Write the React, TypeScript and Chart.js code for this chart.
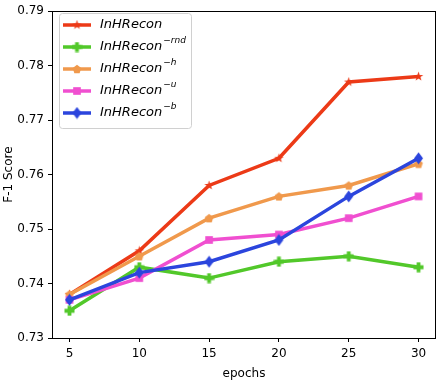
import React, { useEffect, useRef } from "react";
import { Chart, registerables } from "chart.js";

Chart.register(...registerables);

const epochs = [5, 10, 15, 20, 25, 30];
const inhrecon = [0.738, 0.746, 0.758, 0.763, 0.777, 0.778];
const inhreconRnd = [0.735, 0.743, 0.741, 0.744, 0.745, 0.743];
const inhreconH = [0.738, 0.745, 0.752, 0.756, 0.758, 0.762];
const inhreconU = [0.737, 0.741, 0.748, 0.749, 0.752, 0.756];
const inhreconB = [0.737, 0.742, 0.744, 0.748, 0.756, 0.763];
const yTicks = [0.73, 0.74, 0.75, 0.76, 0.77, 0.78, 0.79];
const seriesNames = ["InHRecon", "InHRecon", "InHRecon", "InHRecon", "InHRecon"];
const seriesSups = ["", "−rnd", "−h", "−u", "−b"];

const COLORS = ["#ec3a17", "#52c82a", "#f0994c", "#f04fd0", "#2b45dd"];
const FONT = "'DejaVu Sans', sans-serif";

function makeMarker(kind: string, color: string, size: number): HTMLCanvasElement {
  const c = document.createElement("canvas");
  c.width = size;
  c.height = size;
  const ctx = c.getContext("2d")!;
  ctx.fillStyle = color;
  ctx.strokeStyle = color;
  const cx = size / 2;
  const cy = size / 2;
  const r = size / 2 - 0.5;
  ctx.beginPath();
  if (kind === "star") {
    for (let i = 0; i < 10; i++) {
      const rr = i % 2 === 0 ? r : r * 0.4;
      const a = -Math.PI / 2 + (i * Math.PI) / 5;
      const x = cx + rr * Math.cos(a);
      const y = cy + rr * Math.sin(a);
      if (i === 0) ctx.moveTo(x, y);
      else ctx.lineTo(x, y);
    }
    ctx.closePath();
    ctx.fill();
  } else if (kind === "plus") {
    const w = r * 0.38;
    ctx.rect(cx - w, cy - r, 2 * w, 2 * r);
    ctx.rect(cx - r, cy - w, 2 * r, 2 * w);
    ctx.fill();
  } else if (kind === "pentagon") {
    for (let i = 0; i < 5; i++) {
      const a = -Math.PI / 2 + (i * 2 * Math.PI) / 5;
      const x = cx + r * Math.cos(a);
      const y = cy + r * 1.05 * Math.sin(a) + 0.5;
      if (i === 0) ctx.moveTo(x, y);
      else ctx.lineTo(x, y);
    }
    ctx.closePath();
    ctx.fill();
  } else if (kind === "square") {
    const s = r * 0.85;
    ctx.rect(cx - s, cy - s, 2 * s, 2 * s);
    ctx.fill();
  } else if (kind === "diamond") {
    ctx.moveTo(cx, cy - r);
    ctx.lineTo(cx + r * 0.75, cy);
    ctx.lineTo(cx, cy + r);
    ctx.lineTo(cx - r * 0.75, cy);
    ctx.closePath();
    ctx.fill();
  }
  return c;
}

export default function App() {
  const ref = useRef<HTMLCanvasElement | null>(null);

  useEffect(() => {
    document.body.style.margin = "0";
    const canvas = ref.current!;
    const markerKinds = ["star", "plus", "pentagon", "square", "diamond"];
    const markerSizes = [11, 11, 10, 10, 13];
    const markers = markerKinds.map((k, i) => makeMarker(k, COLORS[i], markerSizes[i]));
    const allSeries = [inhrecon, inhreconRnd, inhreconH, inhreconU, inhreconB];

    const datasets = allSeries.map((vals, i) => ({
      label: seriesNames[i] + seriesSups[i],
      data: epochs.map((e, j) => ({ x: e, y: vals[j] })),
      borderColor: COLORS[i],
      backgroundColor: COLORS[i],
      borderWidth: 3.5,
      pointStyle: markers[i] as any,
      pointRadius: 5,
      order: 5 - i,
    }));

    const framePlugin = {
      id: "frame",
      afterDraw(chart: any) {
        const { ctx, chartArea } = chart;
        ctx.save();
        ctx.strokeStyle = "#000";
        ctx.lineWidth = 1;
        ctx.strokeRect(
          Math.round(chartArea.left) + 0.5,
          Math.round(chartArea.top) + 0.5,
          Math.round(chartArea.right - chartArea.left) - 1,
          Math.round(chartArea.bottom - chartArea.top)
        );
        // legend
        const lx = 59.5, ly = 13.5, lw = 132, lh = 115;
        ctx.fillStyle = "rgba(255,255,255,0.8)";
        ctx.strokeStyle = "#d0d0d0";
        ctx.lineWidth = 1;
        ctx.beginPath();
        const rr = 3;
        ctx.moveTo(lx + rr, ly);
        ctx.lineTo(lx + lw - rr, ly);
        ctx.quadraticCurveTo(lx + lw, ly, lx + lw, ly + rr);
        ctx.lineTo(lx + lw, ly + lh - rr);
        ctx.quadraticCurveTo(lx + lw, ly + lh, lx + lw - rr, ly + lh);
        ctx.lineTo(lx + rr, ly + lh);
        ctx.quadraticCurveTo(lx, ly + lh, lx, ly + lh - rr);
        ctx.lineTo(lx, ly + rr);
        ctx.quadraticCurveTo(lx, ly, lx + rr, ly);
        ctx.closePath();
        ctx.fill();
        ctx.stroke();
        const rowY = [25, 47, 69, 91, 113];
        for (let i = 0; i < 5; i++) {
          const y = rowY[i];
          ctx.strokeStyle = COLORS[i];
          ctx.lineWidth = 3.5;
          ctx.beginPath();
          ctx.moveTo(63, y);
          ctx.lineTo(91, y);
          ctx.stroke();
          const m = markers[i];
          ctx.drawImage(m, 77 - m.width / 2, y - m.height / 2);
          ctx.fillStyle = "#000";
          ctx.textBaseline = "middle";
          ctx.textAlign = "left";
          ctx.font = `italic 13px ${FONT}`;
          ctx.fillText(seriesNames[i], 100, y);
          if (seriesSups[i]) {
            const w = ctx.measureText(seriesNames[i]).width;
            ctx.font = `italic 9px ${FONT}`;
            ctx.fillText(seriesSups[i], 100 + w + 1, y - 6);
          }
        }
        ctx.restore();
      },
    };

    const chart = new Chart(canvas, {
      type: "line",
      data: { datasets: datasets as any },
      options: {
        animation: false,
        responsive: false,
        maintainAspectRatio: false,
        layout: { autoPadding: false, padding: { top: 5, right: 1, left: 0, bottom: 0 } },
        plugins: { legend: { display: false }, tooltip: { enabled: false } },
        scales: {
          x: {
            type: "linear",
            min: 3.75,
            max: 31.25,
            afterBuildTicks(scale: any) {
              scale.ticks = epochs.map((v) => ({ value: v }));
            },
            afterFit(scale: any) {
              scale.height = 43;
            },
            grid: {
              drawOnChartArea: false,
              drawTicks: true,
              tickLength: 4,
              color: "#000",
            },
            border: { display: false },
            ticks: {
              color: "#000",
              font: { family: FONT, size: 12 },
              padding: 5,
              maxRotation: 0,
              callback: (v: any) => String(v),
            },
            title: {
              display: true,
              text: "epochs",
              color: "#000",
              font: { family: FONT, size: 12 },
              padding: { top: 0, bottom: 0 },
            },
          },
          y: {
            min: 0.73,
            max: 0.79,
            afterBuildTicks(scale: any) {
              scale.ticks = yTicks.map((v) => ({ value: v }));
            },
            afterFit(scale: any) {
              scale.width = 52;
            },
            grid: {
              drawOnChartArea: false,
              drawTicks: true,
              tickLength: 4,
              color: "#000",
            },
            border: { display: false },
            ticks: {
              color: "#000",
              font: { family: FONT, size: 12 },
              padding: 4,
              callback: (v: any) => Number(v).toFixed(2),
            },
            title: {
              display: true,
              text: "F-1 Score",
              color: "#000",
              font: { family: FONT, size: 12 },
              padding: { top: 2, bottom: 0 },
            },
          },
        },
      },
      plugins: [framePlugin],
    });
    return () => chart.destroy();
  }, []);

  return (
    <div style={{ position: "absolute", left: 0, top: 0, width: 437, height: 381 }}>
      <canvas ref={ref} width={437} height={381} style={{ display: "block" }} />
    </div>
  );
}
